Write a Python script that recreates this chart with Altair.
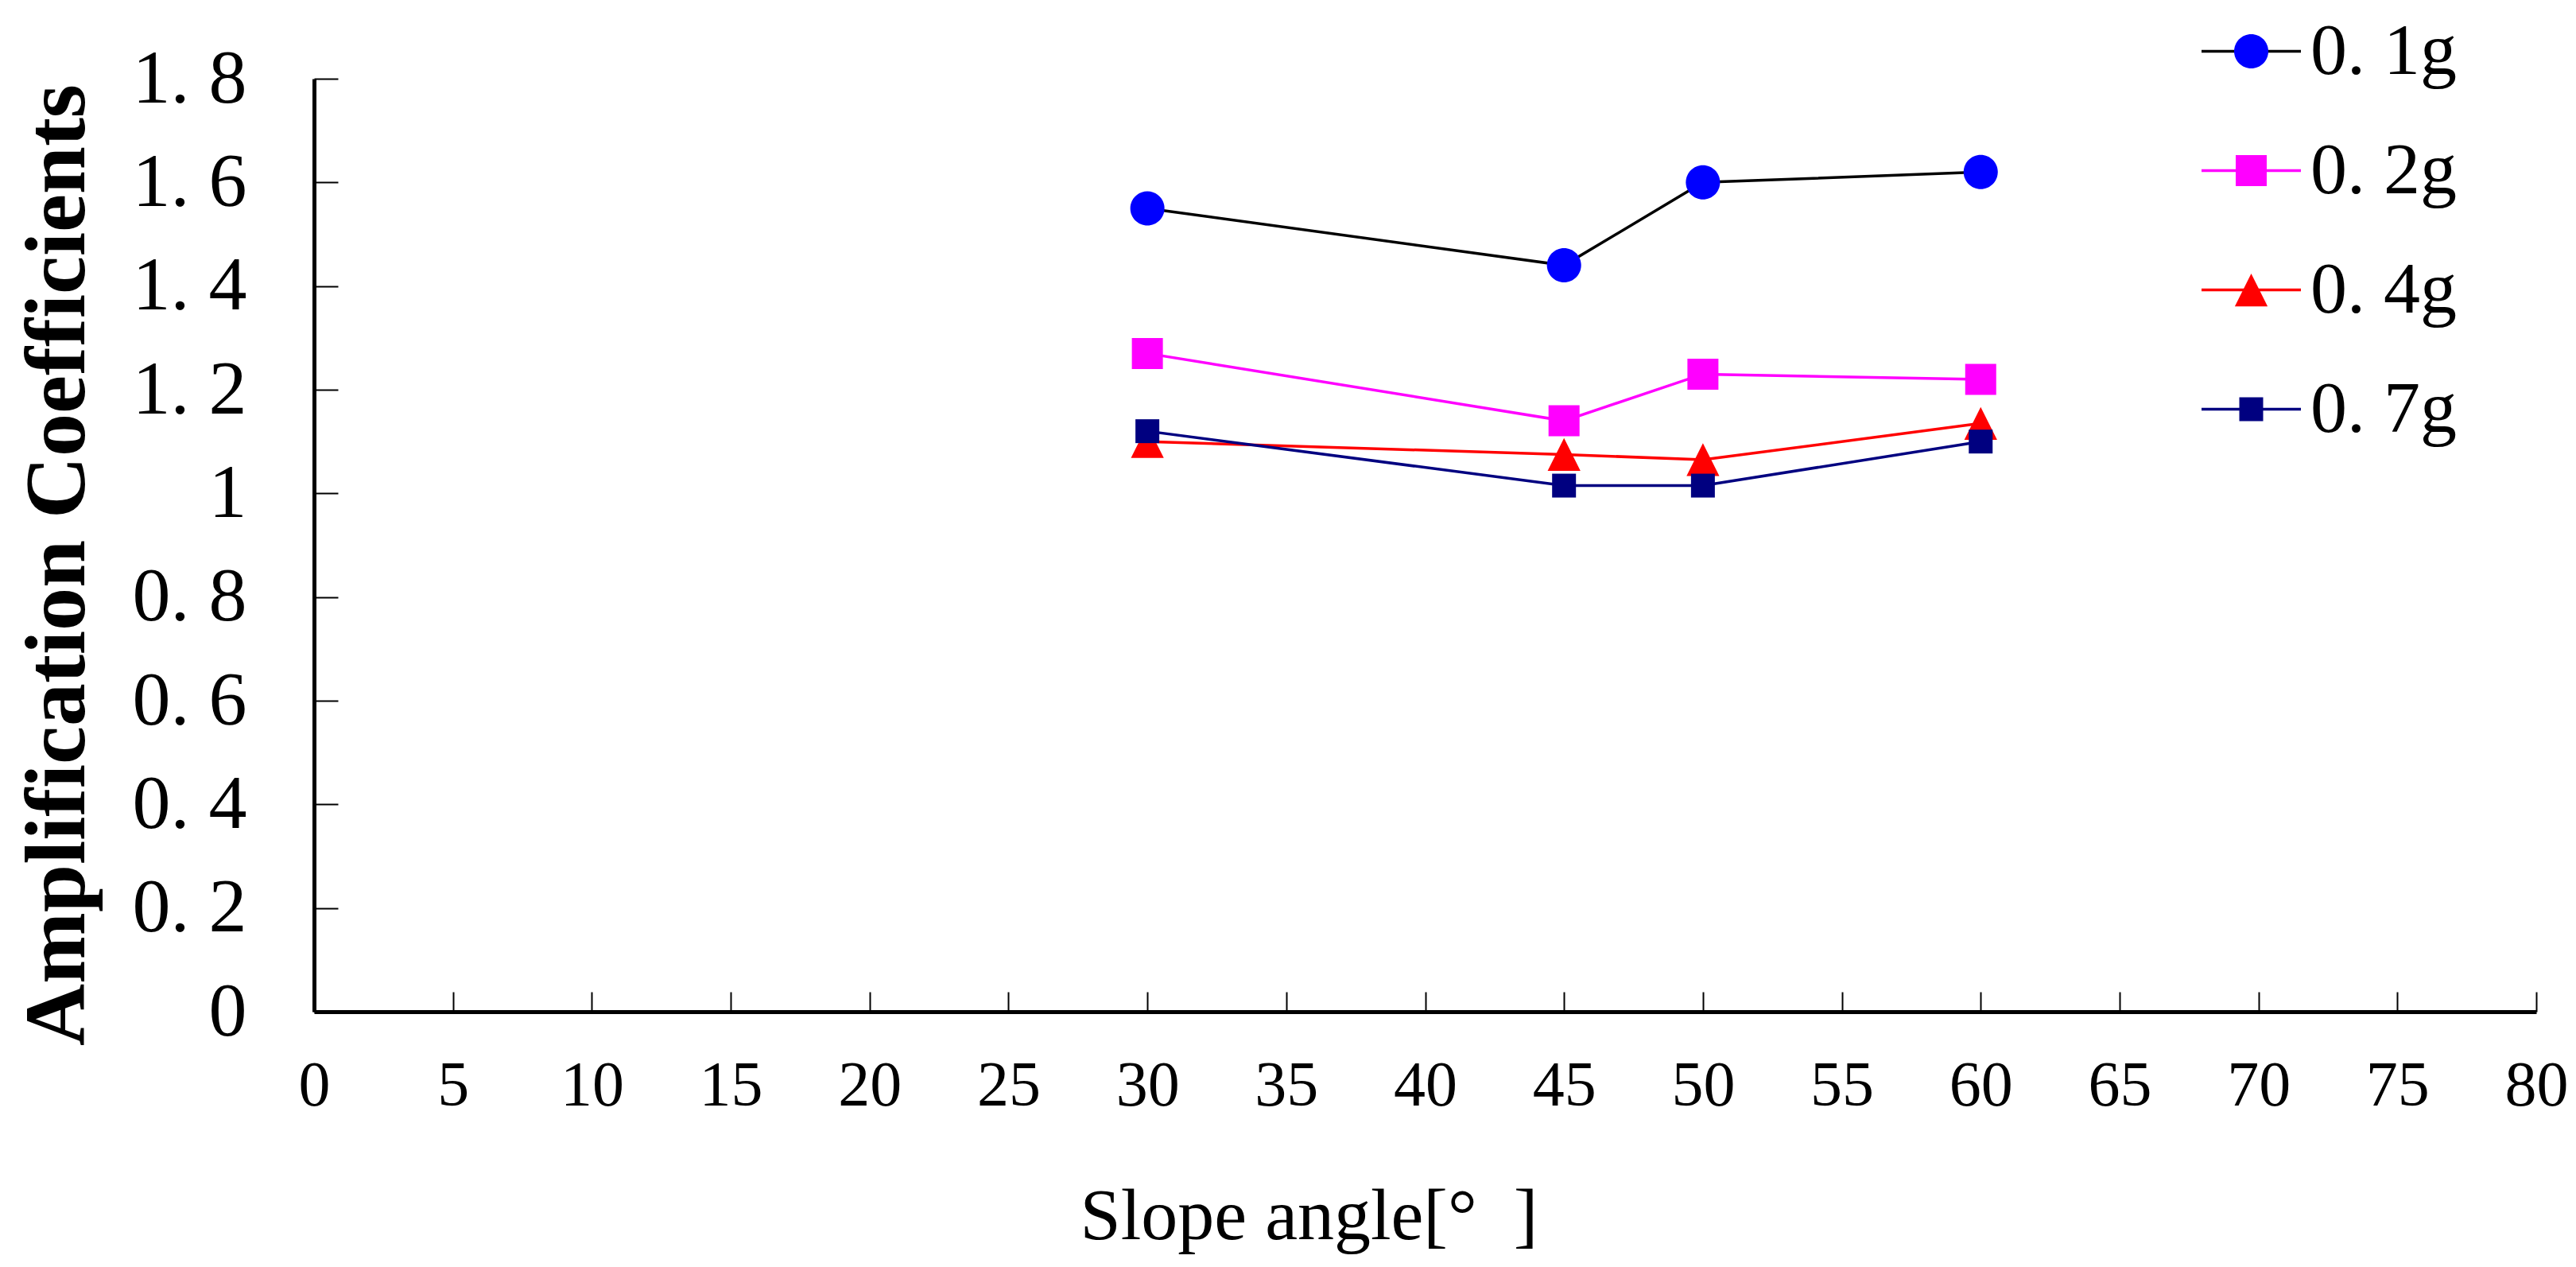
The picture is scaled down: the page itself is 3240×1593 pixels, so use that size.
import altair as alt
import pandas as pd

# ---- data ----
angles = [30, 45, 50, 60]
series_names = ["0. 1g", "0. 2g", "0. 4g", "0. 7g"]
coef_01g = [1.55, 1.44, 1.60, 1.62]
coef_02g = [1.27, 1.14, 1.23, 1.22]
coef_04g = [1.10, 1.075, 1.065, 1.135]
coef_07g = [1.12, 1.015, 1.015, 1.10]

x_ticks = [0, 5, 10, 15, 20, 25, 30, 35, 40, 45, 50, 55, 60, 65, 70, 75, 80]
y_ticks = [0, 0.2, 0.4, 0.6, 0.8, 1.0, 1.2, 1.4, 1.6, 1.8]

line_colors = ["#000000", "#FF00FF", "#FF0000", "#000080"]
marker_colors = ["#0000FF", "#FF00FF", "#FF0000", "#000080"]
marker_shapes = [
    "M0.344,0A0.344,0.344,0,1,1,-0.344,0A0.344,0.344,0,1,1,0.344,0Z",
    "M-0.312,-0.312H0.312V0.312H-0.312Z",
    "M0,-0.33L0.33,0.33H-0.33Z",
    "M-0.24,-0.24H0.24V0.24H-0.24Z",
]

rows = []
for name, vals in zip(series_names, [coef_01g, coef_02g, coef_04g, coef_07g]):
    for a, v in zip(angles, vals):
        rows.append({"series": name, "angle": a, "coef": v})
df = pd.DataFrame(rows)

FONT = "Liberation Serif"
SYM = 15625


def make_legend(**extra):
    return alt.Legend(
        title=None, orient="none", legendX=2372, legendY=-99, padding=0,
        symbolSize=SYM, symbolStrokeWidth=3.5, rowPadding=39,
        labelFont=FONT, labelFontSize=92, labelLimit=400, labelOffset=10,
        labelColor="black", **extra)


x_axis = alt.Axis(
    values=x_ticks, format="d", title="Slope angle[°\u00a0\u00a0]", grid=False,
    domainColor="black", domainWidth=5, tickColor="black", tickWidth=2,
    tickSize={"expr": "-25"}, labelPadding=79, labelFont=FONT,
    labelFontSize=80, labelColor="black", labelFlush=False, labelOverlap=False,
    titleFont=FONT, titleFontSize=92, titleFontWeight="normal",
    titleColor="black", titleX=1251, titleY=285, titleAlign="center",
    titleBaseline="alphabetic")

y_axis = alt.Axis(
    values=y_ticks,
    labelExpr="replace(format(datum.value, '.1~f'), '.', '. ')",
    title="Amplification Coefficients", grid=False,
    domainColor="black", domainWidth=5, tickColor="black", tickWidth=2,
    tickSize={"expr": "-30"}, labelPadding=115, labelFont=FONT,
    labelFontSize=96, labelColor="black", labelOverlap=False, labelFlush=False,
    titleFont=FONT, titleFontSize=108, titleFontWeight="bold",
    titleColor="black", titleAngle=270, titleX=-290, titleY=611,
    titleAlign="center", titleBaseline="alphabetic")

x_enc = alt.X("angle:Q", scale=alt.Scale(domain=[0, 80], nice=False, zero=False), axis=x_axis)
y_enc = alt.Y("coef:Q", scale=alt.Scale(domain=[0, 1.8], nice=False), axis=y_axis)

base = alt.Chart(df)

lines = base.mark_line(strokeWidth=3.5).encode(
    x=x_enc, y=y_enc,
    color=alt.Color("series:N", sort=series_names,
                    scale=alt.Scale(domain=series_names, range=line_colors),
                    legend=make_legend(symbolType="stroke")),
)

pt_legend = make_legend(labelExpr="''", symbolStrokeColor="transparent")
points = base.mark_point(filled=True, opacity=1, size=SYM, strokeWidth=0).encode(
    x=x_enc, y=y_enc,
    color=alt.Color("series:N", sort=series_names,
                    scale=alt.Scale(domain=series_names, range=marker_colors),
                    legend=pt_legend),
    shape=alt.Shape("series:N", sort=series_names,
                    scale=alt.Scale(domain=series_names, range=marker_shapes),
                    legend=pt_legend),
)

chart = alt.layer(lines, points).resolve_scale(
    color="independent", shape="independent"
).properties(
    width=2795, height=1173,
    autosize=alt.AutoSizeParams(type="none"),
    padding={"left": 387, "top": 91, "right": 40, "bottom": 310},
    background="white",
).configure_view(stroke=None)

chart.save("out.html", embed_options={"renderer": "svg", "actions": False})
